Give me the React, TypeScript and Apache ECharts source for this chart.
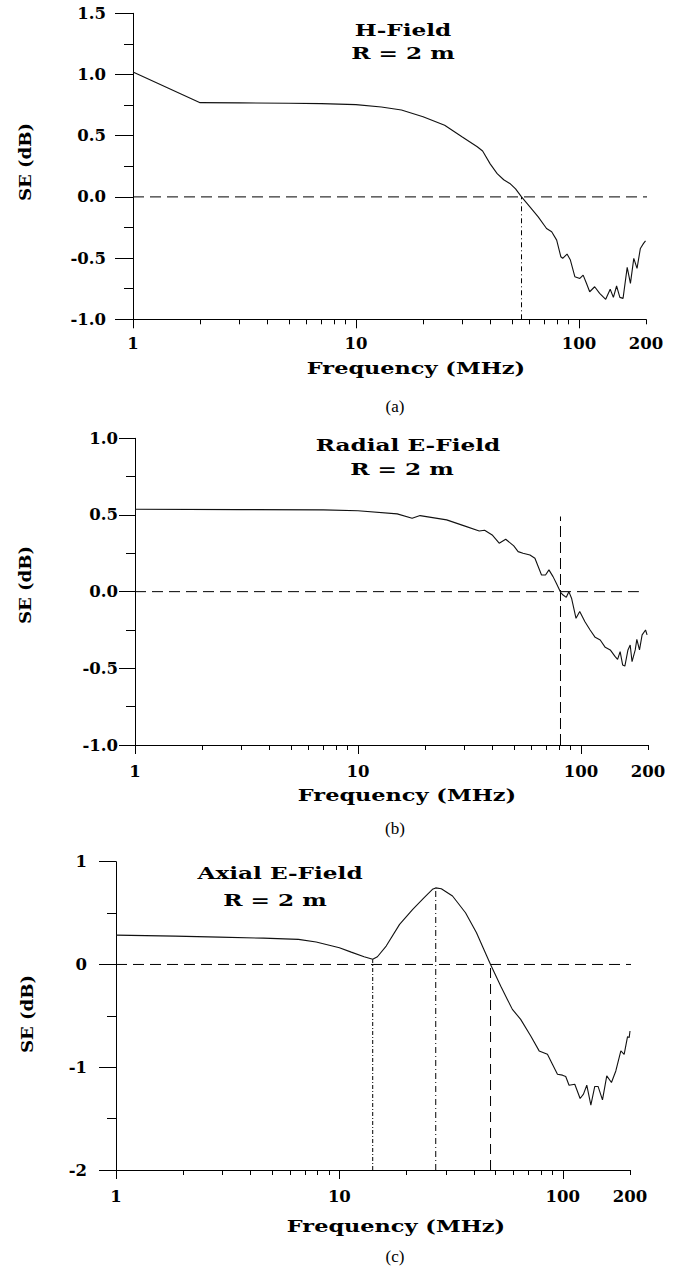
import { useEffect, useRef } from 'react';
import * as echarts from 'echarts';

// ---------- data (frequency in MHz, SE in dB) ----------
const freqA = [1, 2, 3, 5, 7, 10, 13, 16, 20, 25, 30, 35, 37, 40, 43, 46, 49, 52, 55.3, 60.3, 65.7, 71.6, 75.5, 79.5, 83.0, 84.6, 88.5, 91.6, 95.9, 101, 104.5, 108.1, 111.8, 117.7, 123.9, 131.9, 138.2, 142.8, 147.6, 152.7, 157.8, 164.7, 170.3, 176.3, 182.3, 188.7, 195, 199];
const seA = [1.02, 0.77, 0.768, 0.765, 0.762, 0.754, 0.735, 0.71, 0.655, 0.585, 0.49, 0.41, 0.375, 0.27, 0.19, 0.14, 0.11, 0.065, 0, -0.082, -0.163, -0.258, -0.285, -0.353, -0.489, -0.503, -0.467, -0.516, -0.652, -0.666, -0.639, -0.706, -0.775, -0.734, -0.788, -0.837, -0.755, -0.821, -0.728, -0.821, -0.829, -0.576, -0.706, -0.502, -0.584, -0.421, -0.38, -0.359];

const freqB = [1, 3, 7, 10, 15, 17.5, 19, 25, 30, 35, 37, 40, 43, 46, 50, 52.3, 55, 59.1, 62.2, 66.6, 69.4, 71.9, 75.0, 77.6, 81.1, 83.2, 86.0, 88.3, 90.8, 95.1, 98.8, 104.3, 110.0, 115.9, 122.1, 128.6, 135.4, 142.5, 146.1, 150.0, 153.9, 157.5, 162.6, 166.4, 169.6, 175.3, 178.2, 183.2, 188.2, 195.0, 198.1];
const seB = [0.537, 0.535, 0.533, 0.528, 0.507, 0.479, 0.496, 0.468, 0.429, 0.396, 0.4, 0.37, 0.316, 0.342, 0.298, 0.261, 0.25, 0.239, 0.218, 0.109, 0.109, 0.142, 0.098, 0.055, -0.004, -0.022, -0.037, 0.0, -0.043, -0.174, -0.13, -0.196, -0.25, -0.298, -0.315, -0.363, -0.38, -0.424, -0.442, -0.391, -0.478, -0.485, -0.38, -0.348, -0.457, -0.38, -0.311, -0.38, -0.282, -0.25, -0.282];

const freqC = [1, 1.84, 2.9, 4.57, 6.56, 7.87, 10, 11.3, 12.9, 14.1, 14.8, 16.2, 18.6, 21.3, 23.9, 26.1, 27, 28.6, 32.1, 36.7, 41.1, 44.0, 47.5, 52.8, 56.5, 59.5, 64.8, 71.9, 78.4, 85.4, 89.9, 94.7, 99.7, 103.1, 106.7, 113.2, 119.6, 123.8, 128.1, 133.6, 139.1, 143.9, 150.6, 157.4, 165.2, 172.8, 182.0, 188.3, 195.0, 198.3, 200];
const seC = [0.286, 0.276, 0.266, 0.256, 0.244, 0.218, 0.162, 0.12, 0.075, 0.05, 0.075, 0.179, 0.39, 0.536, 0.649, 0.731, 0.745, 0.737, 0.666, 0.503, 0.308, 0.162, 0, -0.211, -0.34, -0.437, -0.534, -0.696, -0.841, -0.874, -0.971, -1.068, -1.077, -1.09, -1.175, -1.165, -1.304, -1.262, -1.175, -1.369, -1.187, -1.187, -1.317, -1.084, -1.149, -1.036, -0.841, -0.874, -0.702, -0.712, -0.647];

// reference lines: [freq, se] end points
const zeroLineA = [[1, 0], [260, 0]];
const crossLineA = [[55.3, -1], [55.3, 0]];
const zeroLineB = [[1, 0], [182, 0]];
const crossLineB = [[81, -1], [81, 0.49]];
const zeroLineC = [[1, 0], [241, 0]];
const dipLineC = [[14.1, -2], [14.1, 0.05]];
const peakLineC = [[27, -2], [27, 0.745]];
const crossLineC = [[47.5, -2], [47.5, 0]];

// axes
const xTickLabels = [1, 10, 100, 200];
const xMajorTicks = [1, 10, 100];
const xMinorTicks = [2, 3, 4, 5, 6, 7, 8, 9, 20, 30, 40, 50, 60, 70, 80, 90, 200];
const xMin = 1;
const xMax = 200;
const yRangeA = [-1, 1.5, 0.5];
const yRangeB = [-1, 1, 0.5];
const yRangeC = [-2, 1, 1];

const titlesA = ['H-Field', 'R = 2 m'];
const titlesB = ['Radial E-Field', 'R = 2 m'];
const titlesC = ['Axial E-Field', 'R = 2 m'];
const xName = 'Frequency (MHz)';
const yName = 'SE (dB)';
const captions = ['(a)', '(b)', '(c)'];

// ---------- helpers ----------
const LOG = (f: number) => Math.log10(f);
const toPts = (fs: number[], vs: number[]) => fs.map((f, i) => [LOG(f), vs[i]]);
const toLine = (pts: number[][]) => pts.map(([f, v]) => [LOG(f), v]);

const SERIF = 'DejaVu Serif';
const BLACK = '#000';

const panels = [
  {
    grid: { left: 133, top: 13.3, width: 513, height: 306 },
    y: yRangeA, dec: 1, yLabelMargin: 27, xLabelMargin: 16, majorLen: 18,
    curve: toPts(freqA, seA),
    refs: [
      { pts: zeroLineA, dash: [11, 6] },
      { pts: crossLineA, dash: [5, 3, 1, 3] },
    ],
  },
  {
    grid: { left: 135, top: 438.3, width: 513, height: 306.7 },
    y: yRangeB, dec: 1, yLabelMargin: 17, xLabelMargin: 18, majorLen: 16,
    curve: toPts(freqB, seB),
    refs: [
      { pts: zeroLineB, dash: [11, 6] },
      { pts: crossLineB, dash: [11, 5] },
    ],
  },
  {
    grid: { left: 116, top: 861.7, width: 514, height: 308.3 },
    y: yRangeC, dec: 0, yLabelMargin: 29, xLabelMargin: 18, majorLen: 17,
    curve: toPts(freqC, seC),
    refs: [
      { pts: zeroLineC, dash: [11, 6] },
      { pts: dipLineC, dash: [4, 2, 1, 2] },
      { pts: peakLineC, dash: [6, 3, 1, 3] },
      { pts: crossLineC, dash: [10, 6] },
    ],
  },
];

const text = (
  t: string, x: number, y: number,
  o: { size?: number; weight?: string; family?: string; sx?: number; rot?: number } = {}
) => ({
  type: 'text',
  x, y,
  scaleX: o.sx ?? 1,
  rotation: o.rot ?? 0,
  silent: true,
  style: {
    text: t,
    fontFamily: o.family ?? SERIF,
    fontWeight: o.weight ?? 'bold',
    fontSize: o.size ?? 16,
    fill: BLACK,
    align: 'center',
    verticalAlign: 'middle',
  },
});

export default function App() {
  const ref = useRef<HTMLDivElement>(null);

  useEffect(() => {
    if (!ref.current) return;
    const chart = echarts.init(ref.current, null, { renderer: 'svg' });

    const labelFont = { color: BLACK, fontFamily: SERIF, fontWeight: 'bold', fontSize: 16.5 };
    const tickLine = { color: BLACK, width: 1 };

    const xAxes: any[] = [];
    const yAxes: any[] = [];
    const series: any[] = [];

    panels.forEach((p, i) => {
      xAxes.push({
        type: 'value', gridIndex: i, min: LOG(xMin), max: LOG(xMax), interval: 1,
        axisLine: { show: true, onZero: false, lineStyle: tickLine },
        axisTick: { show: true, customValues: xMajorTicks.map(LOG), length: 9, lineStyle: tickLine },
        axisLabel: {
          ...labelFont,
          customValues: xTickLabels.map(LOG),
          margin: p.xLabelMargin,
          formatter: (v: number) => String(Math.round(Math.pow(10, v))),
        },
        splitLine: { show: false },
      });
      xAxes.push({
        type: 'value', gridIndex: i, min: LOG(xMin), max: LOG(xMax), position: 'bottom',
        axisLine: { show: false, onZero: false },
        axisTick: { show: true, customValues: xMinorTicks.map(LOG), length: 5, lineStyle: tickLine },
        axisLabel: { show: false },
        splitLine: { show: false },
      });
      yAxes.push({
        type: 'value', gridIndex: i, min: p.y[0], max: p.y[1], interval: p.y[2],
        axisLine: { show: true, onZero: false, lineStyle: tickLine },
        axisTick: { show: true, length: p.majorLen, lineStyle: tickLine },
        minorTick: { show: true, splitNumber: 2, length: 9, lineStyle: tickLine },
        axisLabel: { ...labelFont, margin: p.yLabelMargin, formatter: (v: number) => v.toFixed(p.dec) },
        splitLine: { show: false },
        minorSplitLine: { show: false },
      });
      p.refs.forEach((r) => {
        series.push({
          type: 'line', xAxisIndex: 2 * i, yAxisIndex: i, data: toLine(r.pts),
          symbol: 'none', clip: false, silent: true, z: 2,
          lineStyle: { color: BLACK, width: 1, type: r.dash },
        });
      });
      series.push({
        type: 'line', xAxisIndex: 2 * i, yAxisIndex: i, data: p.curve,
        symbol: 'none', showSymbol: false, silent: true, z: 3,
        lineStyle: { color: '#111', width: 1.1 },
      });
    });

    const graphic = [
      text(titlesA[0], 403, 30, { sx: 1.45 }),
      text(titlesA[1], 403, 53.5, { sx: 1.45 }),
      text(xName, 416, 369, { sx: 1.4 }),
      text(yName, 25, 162, { sx: 1.13, rot: Math.PI / 2 }),
      text(captions[0], 395, 406, { family: 'Liberation Serif', weight: 'normal', size: 17 }),

      text(titlesB[0], 408, 445, { sx: 1.45 }),
      text(titlesB[1], 402, 469, { sx: 1.45 }),
      text(xName, 407, 796, { sx: 1.4 }),
      text(yName, 25, 585, { sx: 1.13, rot: Math.PI / 2 }),
      text(captions[1], 395, 828, { family: 'Liberation Serif', weight: 'normal', size: 17 }),

      text(titlesC[0], 280, 873, { sx: 1.45 }),
      text(titlesC[1], 275, 900, { sx: 1.45 }),
      text(xName, 396, 1227, { sx: 1.4 }),
      text(yName, 27, 1014, { sx: 1.13, rot: Math.PI / 2 }),
      text(captions[2], 395, 1256, { family: 'Liberation Serif', weight: 'normal', size: 17 }),
    ];

    chart.setOption({
      animation: false,
      backgroundColor: '#fff',
      grid: panels.map((p) => ({ ...p.grid, containLabel: false })),
      xAxis: xAxes,
      yAxis: yAxes,
      series,
      graphic,
    });

    return () => chart.dispose();
  }, []);

  return (
    <div
      ref={ref}
      style={{ position: 'absolute', left: 0, top: 0, width: 689, height: 1273, background: '#fff' }}
    />
  );
}
